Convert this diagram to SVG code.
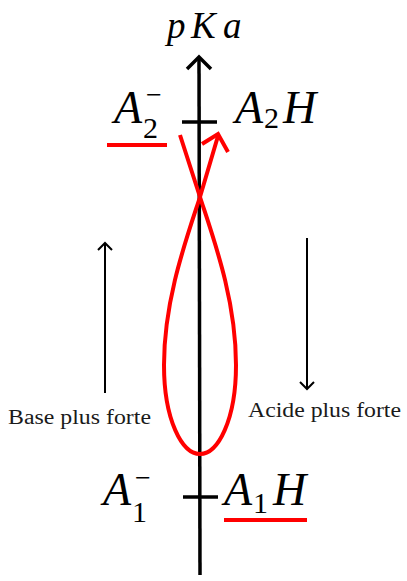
<svg xmlns="http://www.w3.org/2000/svg" width="407" height="581" viewBox="0 0 407 581">
<style>
.ax{stroke:#000;stroke-width:3.5;fill:none;stroke-linecap:butt}
.thin{stroke:#000;stroke-width:2;fill:none}
.red{stroke:#ff0000;stroke-width:4;fill:none}
.mi{font-family:"Liberation Serif","Times New Roman",serif;font-style:italic;fill:#000}
.rm{font-family:"Liberation Serif","Times New Roman",serif;fill:#000}
.lbl{font-family:"Liberation Serif","Times New Roman",serif;font-size:20px;fill:#1a1a1a}
</style>
<rect width="407" height="581" fill="#fff"/>
<g id="axis">
<line class="ax" x1="200" y1="575" x2="199" y2="57"/>
<polyline class="ax" points="187,69 199,57 211,69"/>
<text class="mi" font-size="37" x="167" y="38">p</text>
<text class="mi" font-size="37" x="191" y="38">K</text>
<text class="mi" font-size="37" x="223" y="38">a</text>
</g>
<g id="connectors">
<path class="red" d="M180,135 L200,197 C214,240 236,300 236,365 C236,420 218,454 200,454 C182,454 164,420 164,365 C164,300 186,240 200,197 L218,136"/>
<polyline class="red" points="202,144 218,134 228,152"/>
<line class="thin" x1="105" y1="393" x2="105" y2="243"/>
<polyline class="thin" points="98,250 105,243 112,250"/>
<line class="thin" x1="307" y1="238" x2="307" y2="389"/>
<polyline class="thin" points="300,382 307,389 314,382"/>
</g>
<g id="A2">
<line class="ax" x1="182" y1="122" x2="217" y2="122" stroke-width="4"/>
<text class="mi" font-size="46" x="114" y="123">A</text>
<text class="rm" font-size="30" x="143" y="138">2</text>
<text class="rm" font-size="28" x="146" y="104">−</text>
<line class="red" x1="107" y1="145" x2="167" y2="145"/>
<text class="mi" font-size="46" x="235" y="123">A</text>
<text class="rm" font-size="30" x="264" y="128">2</text>
<text class="mi" font-size="46" x="283" y="123">H</text>
</g>
<g id="A1">
<line class="ax" x1="183" y1="497" x2="218" y2="497" stroke-width="4"/>
<text class="mi" font-size="46" x="103" y="505">A</text>
<text class="rm" font-size="30" x="132" y="522">1</text>
<text class="rm" font-size="28" x="135" y="487">−</text>
<text class="mi" font-size="46" x="224" y="505">A</text>
<text class="rm" font-size="30" x="253" y="513">1</text>
<text class="mi" font-size="46" x="273" y="505">H</text>
<line class="red" x1="224" y1="520" x2="307" y2="520"/>
</g>
<g id="base">
<text class="lbl" x="8" y="424" textLength="143" lengthAdjust="spacingAndGlyphs">Base plus forte</text>
</g>
<g id="acide">
<text class="lbl" x="248" y="417" textLength="153" lengthAdjust="spacingAndGlyphs">Acide plus forte</text>
</g>
</svg>
